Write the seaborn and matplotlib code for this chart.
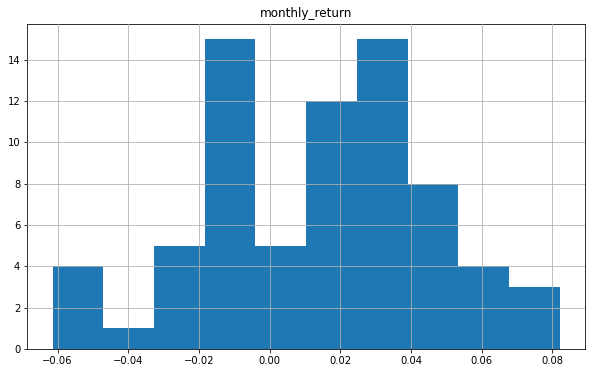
import numpy as np
import pandas as pd
import matplotlib
matplotlib.use("Agg")
import matplotlib.pyplot as plt
import seaborn as sns

# Histogram data
data_min = -0.0614
data_max = 0.0821
n_bins = 10
counts = [4, 1, 5, 15, 5, 12, 15, 8, 4, 3]

edges = np.linspace(data_min, data_max, n_bins + 1)
centers = (edges[:-1] + edges[1:]) / 2
df = pd.DataFrame({"monthly_return": centers, "count": counts})

plt.rcParams["font.family"] = ["DejaVu Sans"]
fig = plt.figure(figsize=(595 / 72, 373 / 72), dpi=72)
ax = fig.add_axes([27.3 / 595, 24 / 373, (585 - 27.3) / 595, (349 - 23.5) / 373])

sns.histplot(data=df, x="monthly_return", weights="count", bins=n_bins,
             binrange=(data_min, data_max),
             color="#1f77b4", alpha=1, linewidth=0, ax=ax)

ax.set_title("monthly_return", fontsize=12)
ax.set_xlabel("")
ax.set_ylabel("")
ax.grid(True, color="#b0b0b0", linewidth=0.8)
ax.set_axisbelow(False)
ax.set_yticks(np.arange(0, 15, 2))
ax.set_xticks([-0.06, -0.04, -0.02, 0.0, 0.02, 0.04, 0.06, 0.08])
ax.tick_params(labelsize=10)
for s in ax.spines.values():
    s.set_color("black")
    s.set_linewidth(0.8)

fig.savefig("out.png", dpi=72, facecolor="white")
